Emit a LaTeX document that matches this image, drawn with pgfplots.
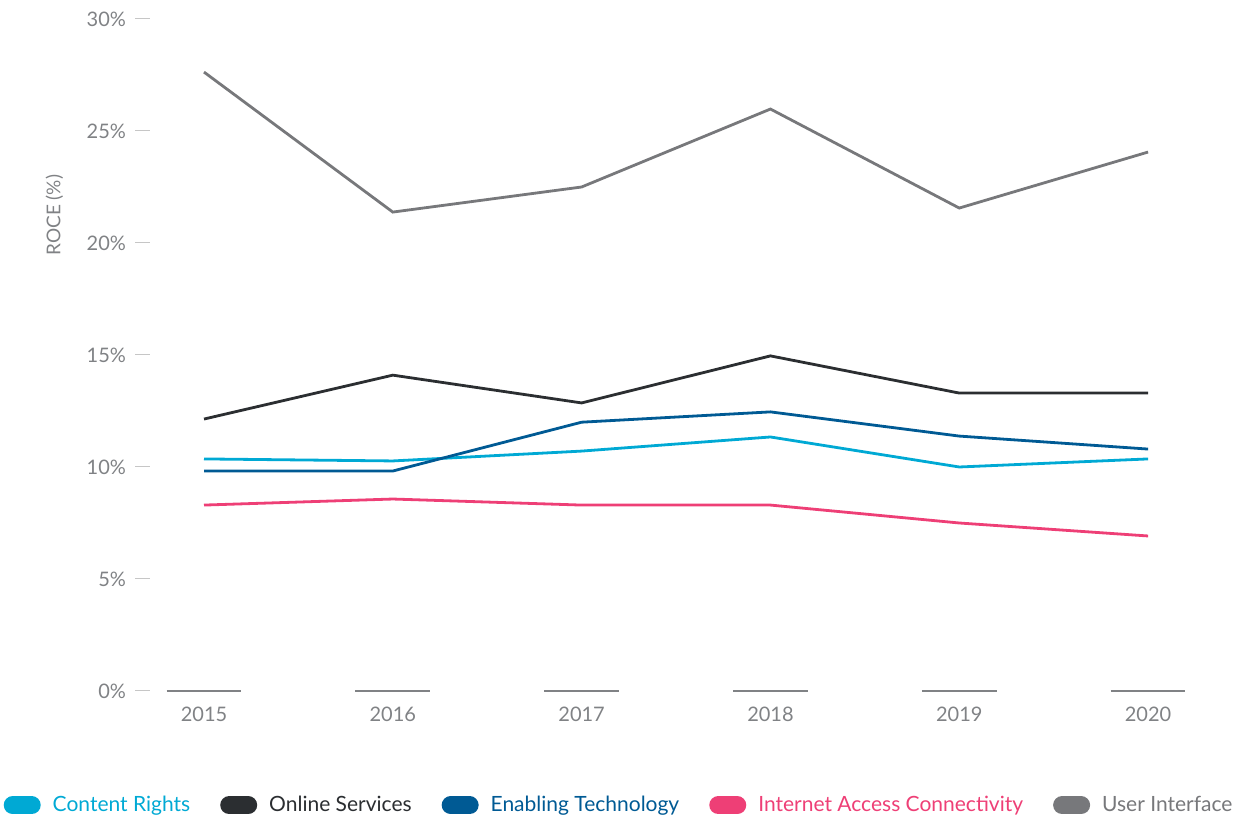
\documentclass[border=0pt]{standalone}
\usepackage{fontspec}
\setmainfont{Lato}
\usepackage{pgfplots}
\pgfplotsset{compat=1.18}
\definecolor{cr}{HTML}{00A9D4}
\definecolor{os}{HTML}{2B2E31}
\definecolor{et}{HTML}{005A94}
\definecolor{ia}{HTML}{EE3F76}
\definecolor{ui}{HTML}{77787B}
\definecolor{tk}{HTML}{808285}
\begin{document}
\begin{tikzpicture}
\path[use as bounding box] (0,0) rectangle (621pt,409pt);
\begin{axis}[
  at={(75pt,63.5pt)}, anchor=south west,
  scale only axis, width=520pt, height=336pt,
  xmin=-0.286, xmax=5.222, ymin=0, ymax=30,
  clip=false,
  axis x line*=bottom, axis y line*=left,
  axis line style={draw=none},
  xtick={0,...,5}, xticklabels={2015,2016,2017,2018,2019,2020},
  ytick={0,5,...,30},
  yticklabel={\pgfmathprintnumber{\tick}\%},
  /pgf/number format/assume math mode=true,
  tick align=outside,
  major tick length=7.5pt,
  y tick style={draw=gray!45, line width=0.5pt},
  x tick style={draw=none},
  ticklabel style={font=\fontsize{10}{12}\selectfont, text=tk},
  yticklabel style={xshift=-1pt},
  xticklabel style={yshift=3pt},
  ylabel={ROCE (\%)},
  every axis y label/.style={at={(axis description cs:-0.092,0.708)}, rotate=90, anchor=center, font=\fontsize{9.5}{11}\selectfont, text=tk},
  legend columns=5,
  legend style={at={(axis description cs:0.452,-0.170)}, anchor=center, draw=none, fill=none,
    font=\fontsize{10.5}{12}\selectfont,
    /tikz/every odd column/.append style={column sep=4pt},
    /tikz/every even column/.append style={column sep=13pt},
    nodes={inner sep=2pt}},
  legend image code/.code={\draw[#1, line width=9pt, line cap=round] (4.5pt,0) -- (14pt,0);},
  every axis plot/.append style={line width=1.4pt},
]
\addplot[cr] coordinates {(0,10.36) (1,10.27) (2,10.71) (3,11.34) (4,10.0) (5,10.36)};
\addlegendentry{\textcolor{cr}{Content Rights}}
\addplot[os] coordinates {(0,12.14) (1,14.1) (2,12.86) (3,14.96) (4,13.3) (5,13.3)};
\addlegendentry{\textcolor{os}{Online Services}}
\addplot[et] coordinates {(0,9.82) (1,9.82) (2,12.0) (3,12.46) (4,11.38) (5,10.8)};
\addlegendentry{\textcolor{et}{Enabling Technology}}
\addplot[ia] coordinates {(0,8.30) (1,8.57) (2,8.30) (3,8.30) (4,7.50) (5,6.92)};
\addlegendentry{\textcolor{ia}{Internet Access Connectivity}}
\addplot[ui] coordinates {(0,27.63) (1,21.38) (2,22.5) (3,25.98) (4,21.56) (5,24.06)};
\addlegendentry{\textcolor{ui}{User Interface}}
\addplot[tk, line width=0.9pt, forget plot] coordinates {(-0.198,0) (0.198,0)};
\addplot[tk, line width=0.9pt, forget plot] coordinates {(0.802,0) (1.198,0)};
\addplot[tk, line width=0.9pt, forget plot] coordinates {(1.802,0) (2.198,0)};
\addplot[tk, line width=0.9pt, forget plot] coordinates {(2.802,0) (3.198,0)};
\addplot[tk, line width=0.9pt, forget plot] coordinates {(3.802,0) (4.198,0)};
\addplot[tk, line width=0.9pt, forget plot] coordinates {(4.802,0) (5.198,0)};
\end{axis}
\end{tikzpicture}
\end{document}
